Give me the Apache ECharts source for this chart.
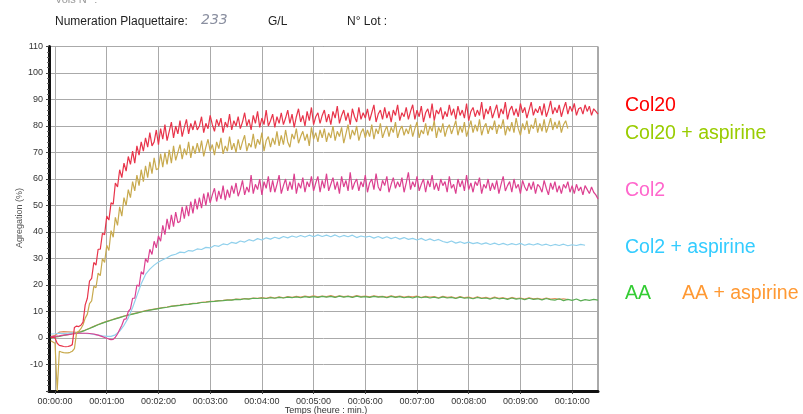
<!DOCTYPE html>
<html><head><meta charset="utf-8">
<script src="https://cdn.jsdelivr.net/npm/echarts@6/dist/echarts.min.js"></script>
<style>html,body{margin:0;padding:0;background:#fff}#c{width:803px;height:414px}</style>
</head><body><div id="c"></div>
<script>
// sample times (s) of the fine (2.5 s) and coarse (5 s) traces
const timeFine = [-5,-2.5,0,2.5,5,7.5,10,12.5,15,17.5,20,22.5,25,27.5,30,32.5,35,37.5,40,42.5,45,47.5,50,52.5,55,57.5,60,62.5,65,67.5,70,72.5,75,77.5,80,82.5,85,87.5,90,92.5,95,97.5,100,102.5,105,107.5,110,112.5,115,117.5,120,122.5,125,127.5,130,132.5,135,137.5,140,142.5,145,147.5,150,152.5,155,157.5,160,162.5,165,167.5,170,172.5,175,177.5,180,182.5,185,187.5,190,192.5,195,197.5,200,202.5,205,207.5,210,212.5,215,217.5,220,222.5,225,227.5,230,232.5,235,237.5,240,242.5,245,247.5,250,252.5,255,257.5,260,262.5,265,267.5,270,272.5,275,277.5,280,282.5,285,287.5,290,292.5,295,297.5,300,302.5,305,307.5,310,312.5,315,317.5,320,322.5,325,327.5,330,332.5,335,337.5,340,342.5,345,347.5,350,352.5,355,357.5,360,362.5,365,367.5,370,372.5,375,377.5,380,382.5,385,387.5,390,392.5,395,397.5,400,402.5,405,407.5,410,412.5,415,417.5,420,422.5,425,427.5,430,432.5,435,437.5,440,442.5,445,447.5,450,452.5,455,457.5,460,462.5,465,467.5,470,472.5,475,477.5,480,482.5,485,487.5,490,492.5,495,497.5,500,502.5,505,507.5,510,512.5,515,517.5,520,522.5,525,527.5,530,532.5,535,537.5,540,542.5,545,547.5,550,552.5,555,557.5,560,562.5,565,567.5,570,572.5,575,577.5,580,582.5,585,587.5,590,592.5,595,597.5,600,602.5,605,607.5,610,612.5,615,617.5,620,622.5,625,627.5,630];
const timeCoarse = [-5,0,5,10,15,20,25,30,35,40,45,50,55,60,65,70,75,80,85,90,95,100,105,110,115,120,125,130,135,140,145,150,155,160,165,170,175,180,185,190,195,200,205,210,215,220,225,230,235,240,245,250,255,260,265,270,275,280,285,290,295,300,305,310,315,320,325,330,335,340,345,350,355,360,365,370,375,380,385,390,395,400,405,410,415,420,425,430,435,440,445,450,455,460,465,470,475,480,485,490,495,500,505,510,515,520,525,530,535,540,545,550,555,560,565,570,575,580,585,590,595,600,605,610,615,620,625,630];

const col20 = [0,0.3,0,-2,-2.8,-3,-3.2,-3.3,-3.2,-3,-2.5,4,4.5,4.3,4.8,6,
12.5,15,21.5,22.5,28.5,27.5,33.5,33.5,39.5,39,46,44.5,51,50.5,58.5,57,63.5,60.5,66,
63,68.5,65.5,70.5,66,72.5,69,74,70.5,75.5,72,77.5,72.5,74,78.5,73,79,75,80.5,74.5,78,81.5,75.5,80,77,82,76,79.5,82.5,77,81,78.5,
82,78.5,80,83.5,77.5,81,79,84,80.5,78,82.5,80,83,77.5,81.5,79.5,84.5,78.5,82,80,
83.5,79,81.5,85,80,82.5,78.5,84,81,85.5,79.5,83,80.5,86,80,82,84.5,79.5,83.5,81,
85,80.5,83,86,81,84.5,79.5,83.5,86.5,81.5,84,80,85.5,82,87,80.5,83.5,85,81,84,
86,81.5,84.5,80.5,85.5,83,87.5,81,84,86,82,85,80.5,86.5,83.5,81.5,87,82.5,85,83,
86.5,82,85,88,81.5,84.5,86,82.5,87,83,85.5,81.5,86,84,88,82,85,83.5,87,82.5,
85.5,88,82.5,86,83.5,87.5,81.5,85,86.5,83,88.5,82,86,84.5,87,82.5,85.5,83.5,88,84,
86.5,82.5,87.5,84,86,83,88.5,82,85.5,87,83.5,86,84,89,82.5,86.5,84.5,87.5,83,85.5,
88,83,86.5,84.5,89,82.5,86,87.5,84,86.5,83.5,88.5,85,87,83,86,89,84,86.5,85,
87.5,84,88.5,83.5,86,89.5,84.5,87,85,88,83.5,86.5,89,84.5,87.5,85.5,88.5,84,86.5,87,
84.5,88,85.5,87.5,84,86.5,85.5,84.5];

const col20Asp = [-1,-1.5,-2,-20,-5,-5.3,-5.5,-5.6,-5.6,-5.4,-5,-4,2,2.5,3.5,5,
7.5,9,13,14,19.5,19,24.5,23.5,30,28.5,35,33,40.5,38,45.5,42.5,49.5,46,53,
50,56,53,59,55.5,61.5,57.5,63.5,59,65,60.5,66.5,62,68,63.5,64,69.5,64.5,70,65.5,71,66,72.5,67,70,73,67.5,71.5,69,74,68,72.5,
69.5,73.5,70,74.5,68.5,72,75,70.5,73,69,74,71.5,75.5,69.5,72.5,70.5,76,71,73.5,70,
75,71,74,76.5,70.5,73.5,72,77,71.5,75,73,77.5,70.5,74.5,76,72,75.5,73,78,72.5,
76.5,73,78.5,74,72,77,75,79,73.5,76,78,74.5,77,72.5,79.5,75,77.5,74,78.5,75.5,
79,74,77.5,75.5,80,74.5,78,76,79.5,73.5,77,80.5,75,78.5,76.5,80,74.5,77.5,79,75.5,
78.5,76,80.5,75,79,77,81,75.5,78,80,76,79.5,77.5,81.5,75.5,78.5,80,76.5,79,77,
80.5,76,79,81.5,75.5,78.5,77,81,76.5,80,78,82,75.5,79.5,77.5,81,76,79,80.5,77,
79.5,82,76.5,80,77.5,81.5,76,79,82,77.5,80.5,78,82.5,76.5,79.5,81,77,80,78.5,82,
77,80.5,79,82.5,76.5,80,78,81.5,77.5,83,79,76.5,81,78.5,82,77,80.5,79,83,77.5,
81,78,82.5,77.5,80,83,78.5,81.5,79,82,77.5,80.5,82,79];

const col2 = [0.5,0.5,0.6,0.7,0.8,1,1.1,1.2,1.3,1.4,1.5,1.6,1.7,1.8,1.8,1.8,1.8,1.8,1.7,1.6,1.5,1.3,1.1,0.8,0.5,0.2,-0.1,-0.4,-0.6,-0.5,
0.3,1.5,3.2,4.8,7,7.2,10,11,15,15,20,19.5,25,24,30,28.5,33.5,31.5,36.5,34,38.5,
36.5,42.5,39,45,41,46.5,42,47.5,43.5,44,49.5,45,50,46,51.5,47,52.5,48.5,53,49,54.5,50,55,51,54,56.5,51.5,55.5,52.5,57.5,52,56,
53,57.5,54.5,58.5,53.5,56,59.5,54,57,55,61.5,54.5,58,56,60,54,59,56.5,61,55,
59.5,55,58,61.5,54.5,57.5,60,55.5,59,56,62,54.5,58.5,56.5,60.5,55,59,57,61,55.5,
58.5,61,55,59.5,56.5,62,55.5,58,60.5,56,59,54.5,61,57,59.5,55.5,62.5,56,58.5,60,
55.5,59,57,61.5,55,58.5,60,56,62,57,55.5,59.5,57.5,61,55,58,60.5,56.5,59,57,
60.5,55,58.5,62.5,56,59,57,61,55.5,58,60,55,59.5,57,61.5,56,58.5,55.5,60,57.5,
59,55,61,56.5,58,54.5,60,57,59.5,55.5,61.5,56,58.5,55,59,57.5,60.5,54.5,58,56.5,
60,55.5,58.5,56,59.5,54.5,58,61,55.5,57.5,59,55,60,56.5,58,54.5,59.5,57,55.5,58.5,
56,59,54.5,58,57,55,59.5,56.5,54,58.5,56,59,55,57.5,54.5,58,56.5,59,55,57.5,
54.5,58,55.5,57,54,57.5,56,54.5,57,55,54,52.5];

const col2Asp = [1.5,1.6,1.8,1.7,1.8,1.9,1.8,1.8,1.7,1.6,1.4,1.1,0.8,0.6,0.6,1.2,2.6,4.8,7.6,11.5,
16,20.5,24,26,27.5,28.7,29.5,30.3,31.2,31.6,
32.4,32.2,33,32.8,33.6,33.4,34.2,34,34.9,34.6,
35.5,35.2,36.1,35.7,36.6,36.2,37.1,36.6,37.5,37,
37.8,37.3,38,37.5,38.3,37.8,38.5,38,38.7,38.1,
38.8,38.2,38.9,38.3,38.8,38.2,38.9,38.1,38.7,38.2,
38.8,37.9,38.5,38.1,38.4,37.7,38.3,37.6,38.2,37.5,
38,37.3,37.9,37.2,37.6,37,37.6,36.8,37.4,36.7,
37.2,36.4,36,36.6,35.8,36.3,35.7,36.2,35.6,36,
35.4,35.9,35.3,35.8,35.2,35.7,35.1,35.6,35.2,35.7,
35,35.5,35.1,35.6,35,35.4,34.8,35.3,34.9,35.4,
34.8,35.2,34.9,35.3,35];

const aa = [0,0.3,0.6,1,1.3,1.6,1.9,2.3,2.9,3.6,
4.3,5,5.6,6.2,6.7,7.2,7.7,8.2,8.6,9,
9.4,9.8,10.2,10.5,10.8,11.1,11.4,11.6,11.9,12.1,
12.3,12.6,12.7,13,13.1,13.4,13.5,13.7,13.8,14,
14.1,14.3,14.3,14.6,14.5,14.8,14.7,15,14.9,15.1,
14.9,15.2,15,15.3,15.1,15.4,15.2,15.5,15.2,15.6,
15.3,15.6,15.3,15.7,15.4,15.7,15.3,15.8,15.4,15.7,
15.3,15.8,15.4,15.6,15.3,15.7,15.4,15.6,15.2,15.7,
15.3,15.6,15.2,15.5,15.1,15.6,15.2,15.5,15.1,15.4,
15,15.5,15.1,15.3,14.9,15.4,15,15.2,14.8,15.3,
14.9,15.1,14.7,15.2,14.8,15,14.6,15.1,14.7,14.9,
14.5,15,14.6,14.8,14.4,14.9,14.5,14.3,14.8,14.1,
14.6,14.2,14.7,14,14.5,14.2,14.6,14.3];

const aaAsp = [0.5,1,2.2,2.4,2.3,2.2,2.1,2.4,3,3.7,
4.4,5.1,5.7,6.3,6.8,7.3,7.8,8.3,8.7,9.1,
9.5,9.9,10.3,10.6,10.9,11.2,11.5,11.7,12,12.2,
12.4,12.7,12.8,13.1,13.2,13.5,13.6,13.8,13.9,14.1,
14.2,14.4,14.4,14.7,14.6,14.9,14.8,15.1,15,15.2,
15,15.4,15.1,15.5,15.2,15.6,15.3,15.7,15.4,15.8,
15.5,15.9,15.5,15.8,15.6,16,15.5,15.9,15.6,15.8,
15.5,16,15.6,15.8,15.5,15.9,15.6,15.7,15.4,15.9,
15.5,15.8,15.4,15.7,15.5,15.8,15.3,15.7,15.4,15.6,
15.2,15.7,15.3,15.5,15.1,15.6,15.2,15.4,15,15.5,
15.1,15.3,14.9,15.4,15,15.2,14.8,15.3,14.9,15.1,
14.7,15.2,14.8,15,14.6,15.1,14.7,14.9,14.6,14.8,
14.5];

const xTickSec = [0,60,120,180,240,300,360,420,480,540,600];
const xTickLabels = ['00:00:00','00:01:00','00:02:00','00:03:00','00:04:00','00:05:00','00:06:00','00:07:00','00:08:00','00:09:00','00:10:00'];

const seriesNames = ['AA + aspirine','AA','Col2 + aspirine','Col2','Col20 + aspirine','Col20'];
const seriesValues = [aaAsp, aa, col2Asp, col2, col20Asp, col20];
const seriesTimes = [timeCoarse, timeCoarse, timeCoarse, timeFine, timeFine, timeFine];
const lineColors = ['#e3915e','#5cad55','#90d0ec','#dc4090','#c8aa4e','#e8344a'];

const legendNames = ['Col20','Col20 + aspirine','Col2','Col2 + aspirine','AA','AA + aspirine'];
const legendColors = ['#ff0000','#99cc00','#ff66cc','#33ccff','#33cc33','#ff9933'];

function zip(times, vals){ const out=[]; for(let i=0;i<vals.length;i++) out.push([times[i], vals[i]]); return out; }

const FONT = '"Liberation Sans", Arial, sans-serif';
const chart = echarts.init(document.getElementById('c'), null, {renderer:'canvas'});

const legendPos = [[625,96],[625,124],[625,181],[625,238],[625,284],[682,284]];

chart.setOption({
  animation:false,
  backgroundColor:'#fff',
  grid:{left:49, right:205, top:46.5, bottom:23, show:true, borderColor:'#555', borderWidth:1,
        containLabel:false, outerBoundsMode:'none'},
  xAxis:{
    type:'value', min:-7, max:630,
    axisLine:{show:true, onZero:false, lineStyle:{color:'#111', width:3}},
    axisTick:{show:true, customValues:xTickSec, length:3, lineStyle:{color:'#444'}},
    axisLabel:{customValues:xTickSec, fontFamily:FONT, fontSize:9, color:'#333', margin:6,
      formatter:(v)=>{ const i=xTickSec.indexOf(v); return i>=0?xTickLabels[i]:''; }},
    splitLine:{show:true, lineStyle:{color:'#aaaaaa', width:1}}
  },
  yAxis:{
    type:'value', min:-20, max:110, interval:10,
    axisLine:{show:true, onZero:false, lineStyle:{color:'#111', width:3}},
    axisTick:{show:true, length:3, lineStyle:{color:'#444'}},
    minorTick:{show:true, splitNumber:5, length:2, lineStyle:{color:'#666'}},
    axisLabel:{fontFamily:FONT, fontSize:9, color:'#333', margin:6,
      formatter:(v)=> v===-20 ? '' : String(v)},
    splitLine:{show:true, lineStyle:{color:'#aaaaaa', width:1}}
  },
  series: seriesNames.map((n,i)=>({
    name:n, type:'line', data:zip(seriesTimes[i], seriesValues[i]), showSymbol:false, symbol:'none',
    lineStyle:{color:lineColors[i], width:1.2}, itemStyle:{color:lineColors[i]}, z:2+i
  })),
  graphic:[
    {type:'text', left:55, top:-6, style:{text:'Vols N° :', fontFamily:FONT, fontSize:11, fill:'#999'}},
    {type:'text', left:55, top:16, style:{text:'Numeration Plaquettaire:', fontFamily:FONT, fontSize:12, fill:'#222'}},
    {type:'text', left:201, top:13, style:{text:'233', fontFamily:'"DejaVu Sans", sans-serif', fontSize:14, fill:'#8a8fa0', fontStyle:'italic'}},
    {type:'text', left:268, top:16, style:{text:'G/L', fontFamily:FONT, fontSize:12, fill:'#222'}},
    {type:'text', left:347, top:16, style:{text:'N° Lot :', fontFamily:FONT, fontSize:12, fill:'#222'}},
    {type:'text', x:20, y:218, rotation:Math.PI/2, style:{text:'Agregation (%)', fontFamily:FONT, fontSize:9, fill:'#555', align:'center', verticalAlign:'middle'}},
    {type:'text', x:326, y:411, style:{text:'Temps (heure : min.)', fontFamily:FONT, fontSize:9, fill:'#333', align:'center', verticalAlign:'middle'}}
  ].concat(legendNames.map((n,i)=>({type:'text', left:legendPos[i][0], top:legendPos[i][1],
      style:{text:n, fontFamily:FONT, fontSize:19.5, fill:legendColors[i]}})))
});
</script></body></html>
